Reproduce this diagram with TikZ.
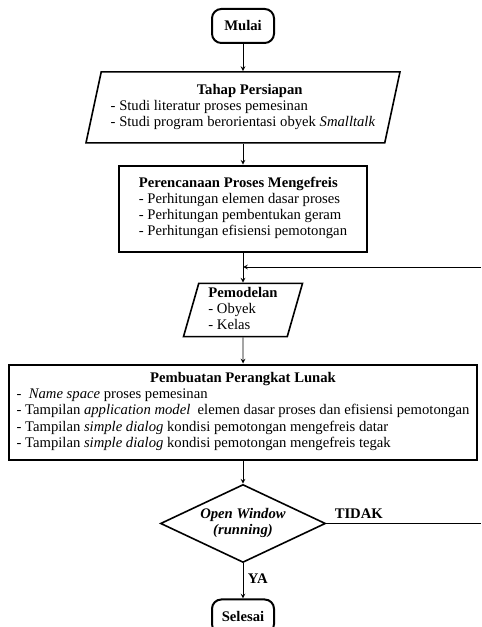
\documentclass[tikz,border=0pt]{standalone}
\usepackage{fontspec}
\setmainfont{Liberation Serif}
\usetikzlibrary{shapes.geometric,positioning}

\begin{document}
\begin{tikzpicture}[->,>=stealth,auto,node distance=76pt,semithick,font=\fontsize{11}{13}\selectfont]
\tikzstyle{terminal}=[draw,line width=1.5pt,rounded corners=7pt,minimum width=46.5pt,minimum height=25.5pt]
\tikzstyle{io}=[trapezium,trapezium left angle=74,trapezium right angle=106,trapezium stretches body,draw,line width=1.2pt,inner sep=2pt]
\tikzstyle{process}=[rectangle,draw,line width=1.5pt,inner sep=2pt]
\tikzstyle{decision}=[diamond,draw,line width=1.2pt,aspect=2.1,inner sep=0pt,minimum width=123.75pt,minimum height=58.5pt]
\renewcommand{\arraystretch}{0.92}

\useasboundingbox (-182.25pt,19.5pt) rectangle (178.5pt,-450.75pt);

\node[terminal] (start) {\textbf{Mulai}};
\node[io,minimum width=235.5pt,minimum height=53.25pt] (prep) [node distance=61pt,below of=start]
  {\begin{tabular}{@{}l@{}}\multicolumn{1}{c}{\hspace{10pt}\textbf{Tahap Persiapan}}\\
   - Studi literatur proses pemesinan\\
   - Studi program berorientasi obyek \textit{Smalltalk}\end{tabular}};
\node[process,minimum width=185.25pt,minimum height=64.5pt] (plan) [below of=prep]
  {\begin{tabular}{@{}l@{}}\textbf{Perencanaan Proses Mengefreis}\\
   - Perhitungan elemen dasar proses\\
   - Perhitungan pembentukan geram\\
   - Perhitungan efisiensi pemotongan\end{tabular}};
\node[io,minimum width=89.25pt,minimum height=39.75pt] (model) [below of=plan]
  {\begin{tabular}{@{}l@{}}\textbf{Pemodelan}\\
   - Obyek\\
   - Kelas\end{tabular}};
\node[process,minimum width=351pt,minimum height=71.25pt] (build) [node distance=76.5pt,below of=model]
  {\begin{tabular}{@{}l@{}}\multicolumn{1}{c}{\textbf{Pembuatan Perangkat Lunak}}\\
   -\ \ \textit{Name space} proses pemesinan\\
   - Tampilan \textit{application model}\ \ elemen dasar proses dan efisiensi pemotongan\\[1pt]
   - Tampilan \textit{simple dialog} kondisi pemotongan mengefreis datar\\
   - Tampilan \textit{simple dialog} kondisi pemotongan mengefreis tegak\end{tabular}};
\node[decision] (check) [node distance=83.6pt,below of=build]
  {\begin{tabular}{@{}c@{}}\textbf{\textit{Open Window}}\\ \textbf{\textit{(running)}}\end{tabular}};
\node[terminal] (stop) [node distance=69.75pt,below of=check] {\textbf{Selesai}};

\coordinate (back) at (178.5pt,-180.75pt);
\coordinate (no) at (check.east -| back);

\path
(start) edge (prep)
(prep) edge (plan)
(plan) edge (model)
(back) edge (back -| model.north)
(model) edge (build)
(build) edge (check)
(check) edge node[right,pos=0.45] {\textbf{YA}} (stop)
(check) edge[-] node[above,pos=0.21] {\textbf{TIDAK}} (no);
\end{tikzpicture}
\end{document}
